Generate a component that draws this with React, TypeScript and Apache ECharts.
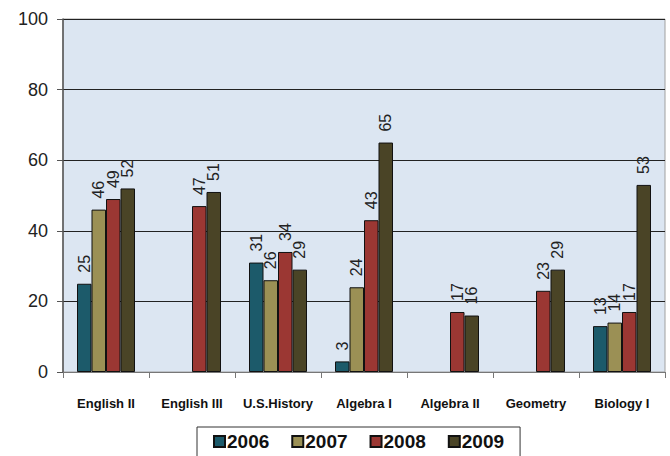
import React, { useEffect, useRef } from "react";
import * as echarts from "echarts";

const categories = ["English II", "English III", "U.S.History", "Algebra I", "Algebra II", "Geometry", "Biology I"];
const years = ["2006", "2007", "2008", "2009"];
const v2006 = [25, null, 31, 3, null, null, 13];
const v2007 = [46, null, 26, 24, null, null, 14];
const v2008 = [49, 47, 34, 43, 17, 23, 17];
const v2009 = [52, 51, 29, 65, 16, 29, 53];
const yTicks = [0, 20, 40, 60, 80, 100];

const colors = ["#1C5A6A", "#9B9055", "#9B3733", "#4A4426"];
const FONT = "'Liberation Sans', Arial, sans-serif";

export default function App() {
  const ref = useRef<HTMLDivElement>(null);
  useEffect(() => {
    if (!ref.current) return;
    const chart = echarts.init(ref.current, null, { renderer: "svg" });
    const seriesData = [v2006, v2007, v2008, v2009];
    chart.setOption({
      animation: false,
      backgroundColor: "#ffffff",
      grid: {
        left: 63,
        right: 5,
        top: 19,
        bottom: 84,
        show: true,
        backgroundColor: "#DCE6F2",
        borderColor: "#A0A0A0",
        borderWidth: 1,
      },
      legend: {
        data: years,
        left: 197,
        top: 427,
        width: 300,
        padding: [5, 16, 10, 16],
        borderColor: "#333",
        borderWidth: 1,
        itemWidth: 11,
        itemHeight: 11,
        itemGap: 22,
        textStyle: { fontSize: 19, fontWeight: "bold", color: "#111", fontFamily: FONT, padding: [0, 0, 0, -3] },
        icon: "rect",
      },
      xAxis: {
        type: "category",
        data: categories,
        axisLine: { show: true, lineStyle: { color: "#777", width: 1 } },
        axisTick: { show: true, length: 6, lineStyle: { color: "#777" } },
        axisLabel: { interval: 0, fontSize: 13, fontWeight: "bold", color: "#111", fontFamily: FONT, margin: 25 },
        splitLine: { show: false },
      },
      yAxis: {
        type: "value",
        min: yTicks[0],
        max: yTicks[yTicks.length - 1],
        interval: 20,
        axisLine: { show: true, lineStyle: { color: "#555", width: 1.5 } },
        axisTick: { show: true, length: 6, lineStyle: { color: "#555" } },
        axisLabel: { fontSize: 18, color: "#222", fontFamily: FONT, margin: 15 },
        splitLine: { show: true, lineStyle: { color: "#222", width: 1 } },
      },
      series: years.map((y, i) => ({
        name: y,
        type: "bar",
        data: seriesData[i],
        barWidth: 14.5,
        barGap: "0%",
        itemStyle: { color: colors[i], borderColor: "#111", borderWidth: 1 },
        label: {
          show: true,
          position: "top",
          rotate: 90,
          align: "left",
          verticalAlign: "middle",
          distance: 11,
          fontSize: 16,
          color: "#222",
          fontFamily: FONT,
        },
      })),
    });
    return () => chart.dispose();
  }, []);
  return <div ref={ref} style={{ width: 670, height: 456, position: "absolute", left: 0, top: 0 }} />;
}
